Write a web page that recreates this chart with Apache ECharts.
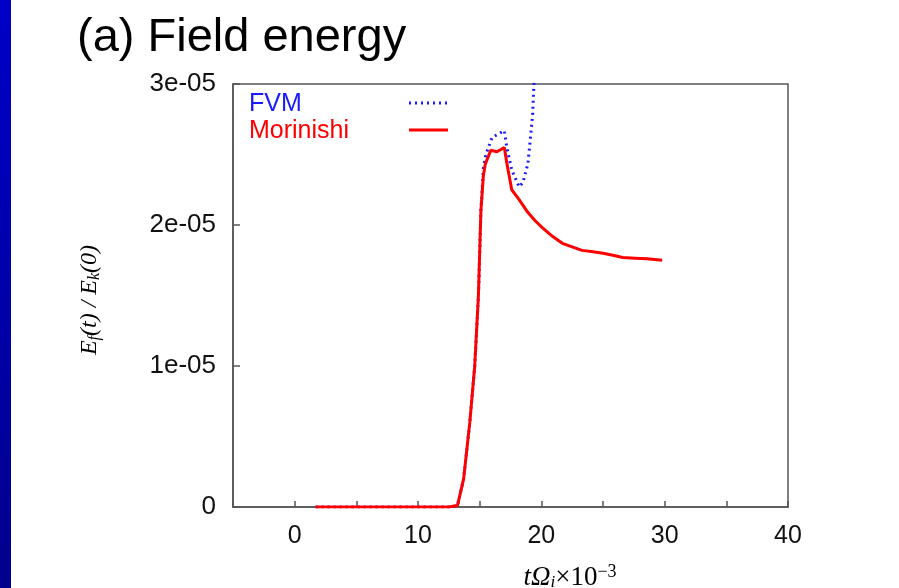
<!DOCTYPE html>
<html>
<head>
<meta charset="utf-8">
<script src="https://cdn.jsdelivr.net/npm/echarts@6/dist/echarts.min.js"></script>
<style>
html,body{margin:0;padding:0;background:#fff;}
#chart{width:899px;height:588px;}
</style>
</head>
<body>
<div id="chart"></div>
<script>
// ---- data (x in tΩi×10^-3, y = Ef(t)/Ek(0)) ----
const morinishiX = [1.7, 5, 10, 12.5, 13.2, 13.7, 14.2, 14.6, 14.9, 15.0, 15.1, 15.3, 15.45, 15.9, 16.4, 17.0, 17.2, 17.6, 18.2, 18.9, 19.5, 20.1, 20.9, 21.7, 22.5, 23.3, 24.2, 25.0, 25.8, 26.6, 27.6, 28.6, 29.8];
const morinishiY = [0, 0, 0, 0, 0.01e-5, 0.2e-5, 0.6e-5, 1.0e-5, 1.5e-5, 1.8e-5, 2.1e-5, 2.35e-5, 2.43e-5, 2.53e-5, 2.52e-5, 2.55e-5, 2.44e-5, 2.25e-5, 2.18e-5, 2.09e-5, 2.03e-5, 1.98e-5, 1.92e-5, 1.87e-5, 1.845e-5, 1.82e-5, 1.81e-5, 1.80e-5, 1.785e-5, 1.77e-5, 1.765e-5, 1.76e-5, 1.75e-5];
const fvmX = [1.7, 5, 10, 12.5, 13.2, 13.7, 14.2, 14.6, 14.9, 15.0, 15.1, 15.3, 15.5, 16.0, 16.6, 17.0, 17.2, 17.6, 18.2, 18.5, 18.9, 19.1, 19.3, 19.4, 19.6];
const fvmY = [0, 0, 0, 0, 0.01e-5, 0.2e-5, 0.6e-5, 1.0e-5, 1.5e-5, 1.8e-5, 2.1e-5, 2.4e-5, 2.5e-5, 2.62e-5, 2.65e-5, 2.67e-5, 2.55e-5, 2.39e-5, 2.27e-5, 2.30e-5, 2.43e-5, 2.6e-5, 2.79e-5, 3.0e-5, 3.3e-5];
const xTickLabels = [0, 10, 20, 30, 40];
const yTickLabels = ['0', '1e-05', '2e-05', '3e-05'];
const seriesNames = ['FVM', 'Morinishi'];

const chart = echarts.init(document.getElementById('chart'), null, {renderer: 'canvas'});
const pairs = (xs, ys) => xs.map((x, i) => [x, ys[i]]);

chart.setOption({
  animation: false,
  backgroundColor: '#ffffff',
  grid: {left: 233, right: 111, top: 84, bottom: 81, show: true, borderColor: '#555', borderWidth: 1.5, backgroundColor: 'transparent'},
  xAxis: {
    type: 'value', min: -5, max: 40, interval: 5,
    axisLine: {show: true, onZero: false, lineStyle: {color: '#555', width: 1.5}},
    axisTick: {show: true, inside: true, length: 6, lineStyle: {color: '#555', width: 1.5}},
    splitLine: {show: false},
    axisLabel: {
      margin: 17, color: '#111', fontFamily: 'Arial, "Liberation Sans"', fontSize: 25,
      formatter: v => xTickLabels.indexOf(v) >= 0 ? String(v) : ''
    }
  },
  yAxis: {
    type: 'value', min: 0, max: 3e-5, interval: 1e-5,
    axisLine: {show: true, onZero: false, lineStyle: {color: '#555', width: 1.5}},
    axisTick: {show: true, inside: true, length: 7, lineStyle: {color: '#555', width: 1.5}},
    splitLine: {show: false},
    axisLabel: {
      margin: 17, color: '#111', fontFamily: 'Arial, "Liberation Sans"', fontSize: 26,
      formatter: v => yTickLabels[Math.round(v / 1e-5)]
    }
  },
  series: [
    {
      name: seriesNames[0], type: 'line', data: pairs(fvmX, fvmY), showSymbol: false, clip: true,
      lineStyle: {color: '#1a1aff', width: 3, type: [2, 4]}, z: 2
    },
    {
      name: seriesNames[1], type: 'line', data: pairs(morinishiX, morinishiY), showSymbol: false, clip: true,
      lineStyle: {color: '#ff0000', width: 3}, z: 3
    }
  ],
  graphic: [
    {type: 'rect', left: 0, top: 0, shape: {width: 11, height: 588},
     style: {fill: new echarts.graphic.LinearGradient(0, 0, 0, 1, [{offset: 0, color: '#0000c8'}, {offset: 1, color: '#00008c'}])}},
    {type: 'text', left: 77, top: 15, style: {text: '(a) Field energy', font: '47px Arial, "Liberation Sans"', fill: '#000'}},
    {type: 'text', left: 249, top: 92, style: {text: seriesNames[0], font: '25px Arial, "Liberation Sans"', fill: '#1a1aff'}},
    {type: 'text', left: 249, top: 119, style: {text: seriesNames[1], font: '25px Arial, "Liberation Sans"', fill: '#ff0000'}},
    {type: 'line', shape: {x1: 409, y1: 103, x2: 448, y2: 103}, style: {stroke: '#1a1aff', lineWidth: 3, lineDash: [2, 4]}},
    {type: 'line', shape: {x1: 409, y1: 130, x2: 448, y2: 130}, style: {stroke: '#ff0000', lineWidth: 3}},
    {type: 'text', x: 90, y: 300, rotation: Math.PI / 2, originX: 0, originY: 0,
     style: {
       text: '{i|E}{s|f}{i|(t) / E}{s|k}{i|(0)}',
       align: 'center', verticalAlign: 'middle',
       rich: {
         i: {font: 'italic 24px "Liberation Serif", "DejaVu Serif", serif', fill: '#000'},
         s: {font: 'italic 16px "Liberation Serif", "DejaVu Serif", serif', fill: '#000', padding: [9, 0, 0, 0]}
       }
     }},
    {type: 'text', x: 570, y: 578,
     style: {
       text: '{i|tΩ}{s|i}{n|×10}{p|−3}',
       align: 'center', verticalAlign: 'middle',
       rich: {
         i: {font: 'italic 27px "Liberation Serif", "DejaVu Serif", serif', fill: '#000'},
         s: {font: 'italic 17px "Liberation Serif", "DejaVu Serif", serif', fill: '#000', padding: [10, 0, 0, 0]},
         n: {font: '27px "Liberation Serif", "DejaVu Serif", serif', fill: '#000'},
         p: {font: '18px "Liberation Serif", "DejaVu Serif", serif', fill: '#000', padding: [0, 0, 12, 0]}
       }
     }}
  ]
});
</script>
</body>
</html>
